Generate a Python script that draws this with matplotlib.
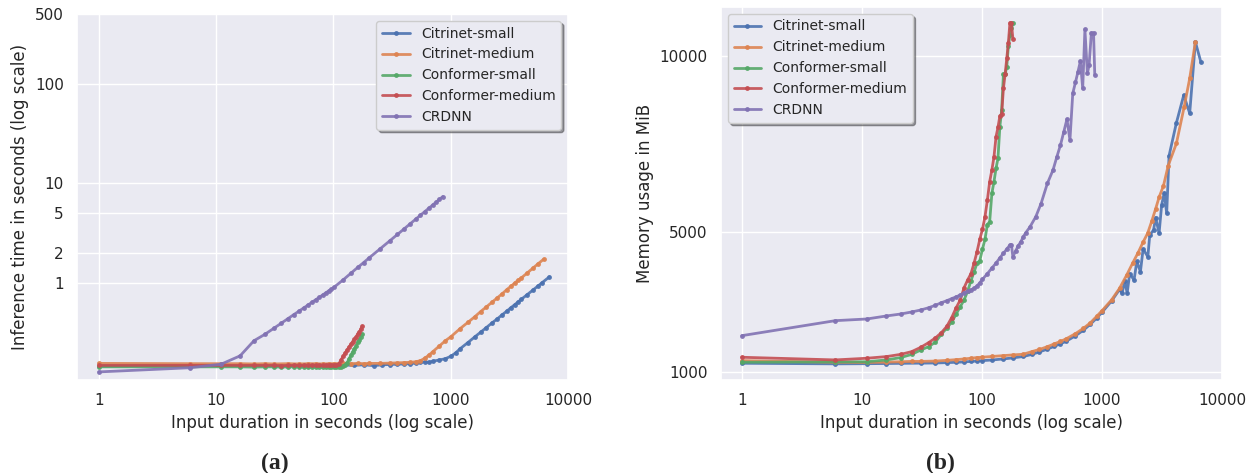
import matplotlib
matplotlib.use("Agg")
import matplotlib.pyplot as plt
import matplotlib.ticker as mticker
import seaborn as sns

sns.set_theme(style="darkgrid")
plt.rcParams['font.family'] = ['DejaVu Sans']

models = ['Citrinet-small', 'Citrinet-medium', 'Conformer-small', 'Conformer-medium', 'CRDNN']

# ---- inference time (left) ----
cit_s_tx = [1, 6, 11, 16, 21, 31, 41, 51, 61, 71, 81, 91, 101, 121, 151, 181, 221, 261, 301, 351,
            401, 451, 501, 551, 601, 651, 701, 801, 901, 1001, 1101, 1201, 1401, 1601, 1801, 2001,
            2251, 2501, 2751, 3001, 3251, 3501, 3751, 4001, 4501, 5001, 5501, 6001, 6951]
cit_s_t = [0.148, 0.150, 0.150, 0.149, 0.149, 0.149, 0.148, 0.149, 0.149, 0.150, 0.150, 0.150,
           0.151, 0.151, 0.150, 0.152, 0.149, 0.152, 0.153, 0.154, 0.155, 0.156, 0.158, 0.161,
           0.162, 0.161, 0.165, 0.170, 0.175, 0.185, 0.200, 0.220, 0.254, 0.289, 0.323, 0.357,
           0.400, 0.440, 0.483, 0.524, 0.566, 0.607, 0.648, 0.690, 0.770, 0.850, 0.930, 1.010, 1.160]

cit_m_tx = [1, 6, 11, 16, 21, 26, 31, 41, 51, 61, 71, 81, 91, 101, 121, 141, 161, 181, 201, 251,
            301, 351, 401, 451, 501, 551, 601, 651, 701, 801, 901, 1001, 1201, 1401, 1601, 1801,
            2001, 2251, 2501, 2751, 3001, 3251, 3501, 3751, 4001, 4501, 5001, 5501, 6201]
cit_m_t = [0.157, 0.156, 0.156, 0.156, 0.155, 0.156, 0.155, 0.156, 0.155, 0.156, 0.156, 0.155,
           0.156, 0.156, 0.157, 0.156, 0.157, 0.156, 0.157, 0.157, 0.158, 0.159, 0.160, 0.161,
           0.163, 0.167, 0.177, 0.190, 0.205, 0.235, 0.265, 0.290, 0.350, 0.405, 0.460, 0.520,
           0.575, 0.645, 0.715, 0.785, 0.860, 0.930, 1.000, 1.070, 1.130, 1.270, 1.410, 1.550, 1.740]

conf_tx = [1, 6, 11, 16, 21, 26, 31, 36, 41, 46, 51, 56, 61, 66, 71, 76, 81, 86, 91, 96, 101, 106,
           111, 116, 121, 126, 131, 136, 141, 146, 151, 156, 161, 166, 171, 176]
conf_s_t = [0.145, 0.145, 0.145, 0.145, 0.144, 0.145, 0.145, 0.144, 0.145, 0.145, 0.145, 0.144,
            0.145, 0.145, 0.145, 0.145, 0.144, 0.145, 0.145, 0.145, 0.145, 0.145, 0.145, 0.146,
            0.148, 0.152, 0.160, 0.175, 0.190, 0.205, 0.220, 0.235, 0.255, 0.270, 0.290, 0.310]
conf_m_t = [0.150, 0.150, 0.150, 0.150, 0.150, 0.150, 0.150, 0.149, 0.150, 0.150, 0.150, 0.150,
            0.150, 0.150, 0.150, 0.150, 0.150, 0.150, 0.151, 0.151, 0.151, 0.152, 0.155, 0.170,
            0.185, 0.200, 0.215, 0.230, 0.245, 0.260, 0.275, 0.290, 0.310, 0.325, 0.345, 0.370]

crdnn_tx = [1, 6, 11, 16, 21, 26, 31, 36, 41, 46, 51, 56, 61, 66, 71, 76, 81, 86, 91, 96, 101, 121,
            141, 161, 181, 201, 251, 301, 351, 401, 451, 501, 551, 601, 651, 701, 751, 801, 856]
crdnn_t = [0.129, 0.142, 0.154, 0.187, 0.265, 0.307, 0.353, 0.398, 0.442, 0.485, 0.526, 0.567,
           0.607, 0.647, 0.686, 0.724, 0.762, 0.800, 0.837, 0.873, 0.910, 1.080, 1.260, 1.440,
           1.610, 1.790, 2.220, 2.650, 3.080, 3.510, 3.940, 4.370, 4.800, 5.220, 5.650, 6.070,
           6.500, 6.920, 7.390]

# ---- memory usage (right) ----
cit_s_mx = [1, 6, 11, 16, 21, 31, 41, 51, 61, 71, 81, 91, 101, 121, 151, 181, 221, 261, 301, 351,
            401, 451, 501, 601, 701, 801, 901, 1001, 1201, 1401, 1471, 1551, 1621, 1701, 1851,
            1951, 2091, 2201, 2411, 2501, 2691, 2801, 2991, 3141, 3301, 3461, 3621, 4171, 4801,
            5381, 6001, 6681]
cit_s_m = [1247, 1230, 1235, 1240, 1245, 1250, 1255, 1265, 1275, 1285, 1300, 1310, 1322, 1340,
           1370, 1400, 1440, 1500, 1570, 1650, 1730, 1800, 1870, 2030, 2190, 2360, 2530, 2700,
           3020, 3350, 3240, 3600, 3240, 3800, 3620, 4150, 3856, 4500, 4284, 4900, 5044, 5400,
           4950, 5756, 6100, 5520, 7160, 8100, 8889, 8370, 10406, 9820]

cit_m_mx = [1, 6, 11, 16, 21, 26, 31, 41, 51, 61, 71, 81, 91, 101, 121, 151, 181, 221, 261, 301,
            351, 401, 451, 501, 601, 701, 801, 901, 1001, 1201, 1401, 1601, 1801, 2001, 2201,
            2401, 2601, 2801, 3001, 3251, 3561, 4171, 4841, 5381, 6001]
cit_m_m = [1322, 1276, 1270, 1280, 1290, 1300, 1300, 1310, 1330, 1350, 1370, 1390, 1410, 1420,
           1440, 1465, 1485, 1504, 1580, 1640, 1720, 1800, 1870, 1940, 2090, 2244, 2400, 2580,
           2746, 3050, 3383, 3750, 4100, 4400, 4700, 4950, 5300, 5650, 5993, 6300, 6876, 7513,
           8556, 9364, 10406]

conf_mx = [1, 6, 11, 16, 21, 26, 31, 36, 41, 46, 51, 56, 61, 66, 71, 76, 81, 86, 91, 96, 101, 106,
           111, 116, 121, 126, 131, 136, 141, 146, 151, 156, 161, 166, 171, 176, 181]
conf_s_m = [1276, 1285, 1290, 1342, 1408, 1500, 1626, 1720, 1850, 2080, 2250, 2420, 2650, 2860,
            3050, 3300, 3600, 3850, 4100, 4170, 4500, 4780, 5200, 5280, 6089, 6420, 6800, 7085,
            7986, 8462, 9487, 9487, 9695, 10284, 10598, 10800, 10948]
conf_m_m = [1418, 1342, 1390, 1437, 1500, 1579, 1703, 1836, 1970, 2120, 2300, 2550, 2830, 3050,
            3400, 3620, 3800, 4100, 4426, 4780, 5064, 5423, 5898, 6420, 6753, 7132, 7701, 7969,
            8291, 8350, 9080, 9487, 9933, 10380, 10948, 10948, 10502]

crdnn_mx = [1, 6, 11, 16, 21, 26, 31, 36, 41, 46, 51, 56, 61, 66, 71, 76, 81, 86, 91, 96, 101, 111,
            121, 131, 141, 151, 161, 171, 176, 181, 191, 201, 211, 221, 231, 251, 281, 311, 351,
            391, 421, 451, 481, 511, 541, 571, 601, 631, 661, 691, 721, 756, 781, 816, 851, 871]
crdnn_m = [2034, 2461, 2509, 2595, 2650, 2709, 2766, 2830, 2900, 2974, 3030, 3090, 3140, 3193,
           3250, 3300, 3340, 3383, 3450, 3540, 3640, 3800, 3960, 4100, 4250, 4380, 4500, 4617,
           4620, 4284, 4450, 4600, 4711, 4850, 4959, 5130, 5423, 5800, 6374, 6753, 7132, 7465,
           7844, 8205, 7607, 8937, 9250, 9553, 9857, 9080, 10760, 9507, 9743, 10664, 10664, 9459]

time_series = [(cit_s_tx, cit_s_t), (cit_m_tx, cit_m_t), (conf_tx, conf_s_t), (conf_tx, conf_m_t),
               (crdnn_tx, crdnn_t)]
mem_series = [(cit_s_mx, cit_s_m), (cit_m_mx, cit_m_m), (conf_mx, conf_s_m), (conf_mx, conf_m_m),
              (crdnn_mx, crdnn_m)]

colors = sns.color_palette("deep")
W, H = 1255, 473
fig = plt.figure(figsize=(W / 100, H / 100), dpi=100)
ax1 = fig.add_axes([77 / W, (H - 380) / H, 491 / W, 366 / H])
ax2 = fig.add_axes([721 / W, (H - 380) / H, 501 / W, 373 / H])

for (x, y), name, c in zip(time_series, models, colors):
    ax1.plot(x, y, marker='.', markersize=5, linewidth=2, color=c, label=name, alpha=0.9)
for (x, y), name, c in zip(mem_series, models, colors):
    ax2.plot(x, y, marker='.', markersize=5, linewidth=2, color=c, label=name, alpha=0.9)

xticks = [1, 10, 100, 1000, 10000]
for ax in (ax1, ax2):
    ax.set_xscale('log')
    ax.set_xticks(xticks)
    ax.set_xticklabels([str(t) for t in xticks])
    ax.xaxis.set_minor_locator(mticker.NullLocator())
    ax.set_xlabel('Input duration in seconds (log scale)', fontsize=12)
    ax.tick_params(labelsize=11)

ax1.set_xlim(0.65, 10000)
ax2.set_xlim(0.67, 10000)

ax1.set_yscale('log')
yt = [1, 2, 5, 10, 100, 500]
ax1.set_yticks(yt)
ax1.set_yticklabels([str(t) for t in yt])
ax1.yaxis.set_minor_locator(mticker.NullLocator())
ax1.set_ylim(0.107, 500)
ax1.set_ylabel('Inference time in seconds (log scale)', fontsize=12)

ax2.set_yticks([1000, 5000, 10000])
ax2.set_ylim(770, 11400)
ax2.set_ylabel('Memory usage in MiB', fontsize=12)

ax1.legend(loc='upper right', shadow=True, fontsize=10)
ax2.legend(loc='upper left', shadow=True, fontsize=10)

fig.text(275 / W, 1 - 463 / H, '(a)', ha='center', va='center', fontsize=17,
         fontweight='bold', family='Liberation Serif')
fig.text(940 / W, 1 - 463 / H, '(b)', ha='center', va='center', fontsize=17,
         fontweight='bold', family='Liberation Serif')

fig.savefig('out.png', dpi=100)
